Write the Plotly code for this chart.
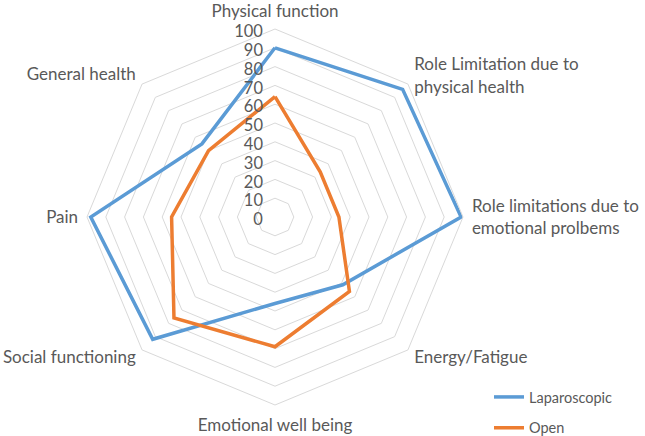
import plotly.graph_objects as go

categories = [
    "Physical function",
    "Role Limitation due to physical health",
    "Role limitations due to emotional prolbems",
    "Energy/Fatigue",
    "Emotional well being",
    "Social functioning",
    "Pain",
    "General health",
]
laparoscopic = [90, 96, 99, 51, 46, 92, 98, 55]
open_surgery = [64, 34, 34, 56, 69, 76, 55, 50]
radial_ticks = list(range(0, 101, 10))

# displayed category labels (line breaks / vertical nudges for placement only)
category_labels = [
    "Physical function",
    "<br><br><br>Role Limitation due to<br>physical health",
    "Role limitations due to<br>emotional prolbems",
    "Energy/Fatigue<br><br><br>",
    "Emotional well being",
    "Social functioning<br><br><br>",
    "Pain",
    "General health",
]

W, H = 645, 436
cx, cy, R = 275, 217, 188

fig = go.Figure()
fig.add_trace(go.Scatterpolar(
    r=laparoscopic + laparoscopic[:1], theta=categories + categories[:1],
    mode="lines", name="Laparoscopic", legendgroup="a",
    line=dict(color="#5B9BD5", width=3.5),
))
fig.add_trace(go.Scatterpolar(
    r=open_surgery + open_surgery[:1], theta=categories + categories[:1],
    mode="lines", name="Open", legendgroup="b",
    line=dict(color="#ED7D31", width=3.5),
))

font_family = "Lato, 'Open Sans', sans-serif"
fig.update_layout(
    width=W, height=H,
    margin=dict(l=0, r=0, t=0, b=0, autoexpand=False),
    paper_bgcolor="white",
    font=dict(family=font_family, color="#595959", size=17),
    polar=dict(
        domain=dict(x=[(cx - R) / W, (cx + R) / W], y=[(H - cy - R) / H, (H - cy + R) / H]),
        bgcolor="white",
        gridshape="linear",
        radialaxis=dict(
            range=[0, 100], tickvals=radial_ticks, ticktext=[str(t) for t in radial_ticks],
            angle=90, side="counterclockwise", showline=False, ticks="",
            gridcolor="#D9D9D9", gridwidth=1, tickfont=dict(size=16.5, color="#595959"),
        ),
        angularaxis=dict(
            direction="clockwise", rotation=90, showgrid=False,
            tickmode="array", tickvals=categories, ticktext=category_labels,
            showline=True, linecolor="#D9D9D9", linewidth=1,
            ticks="outside", ticklen=5, tickcolor="rgba(0,0,0,0)",
            tickfont=dict(size=17, color="#595959"),
        ),
    ),
    legend=dict(
        x=489 / W, y=-8 / H, xanchor="left", yanchor="bottom",
        tracegroupgap=9, font=dict(size=14.5, color="#595959"),
        bgcolor="rgba(0,0,0,0)",
    ),
)
fig.write_html(
    "out.html",
    config={"displayModeBar": False},
    post_script="document.body.style.margin='0';document.body.style.padding='0';",
)
